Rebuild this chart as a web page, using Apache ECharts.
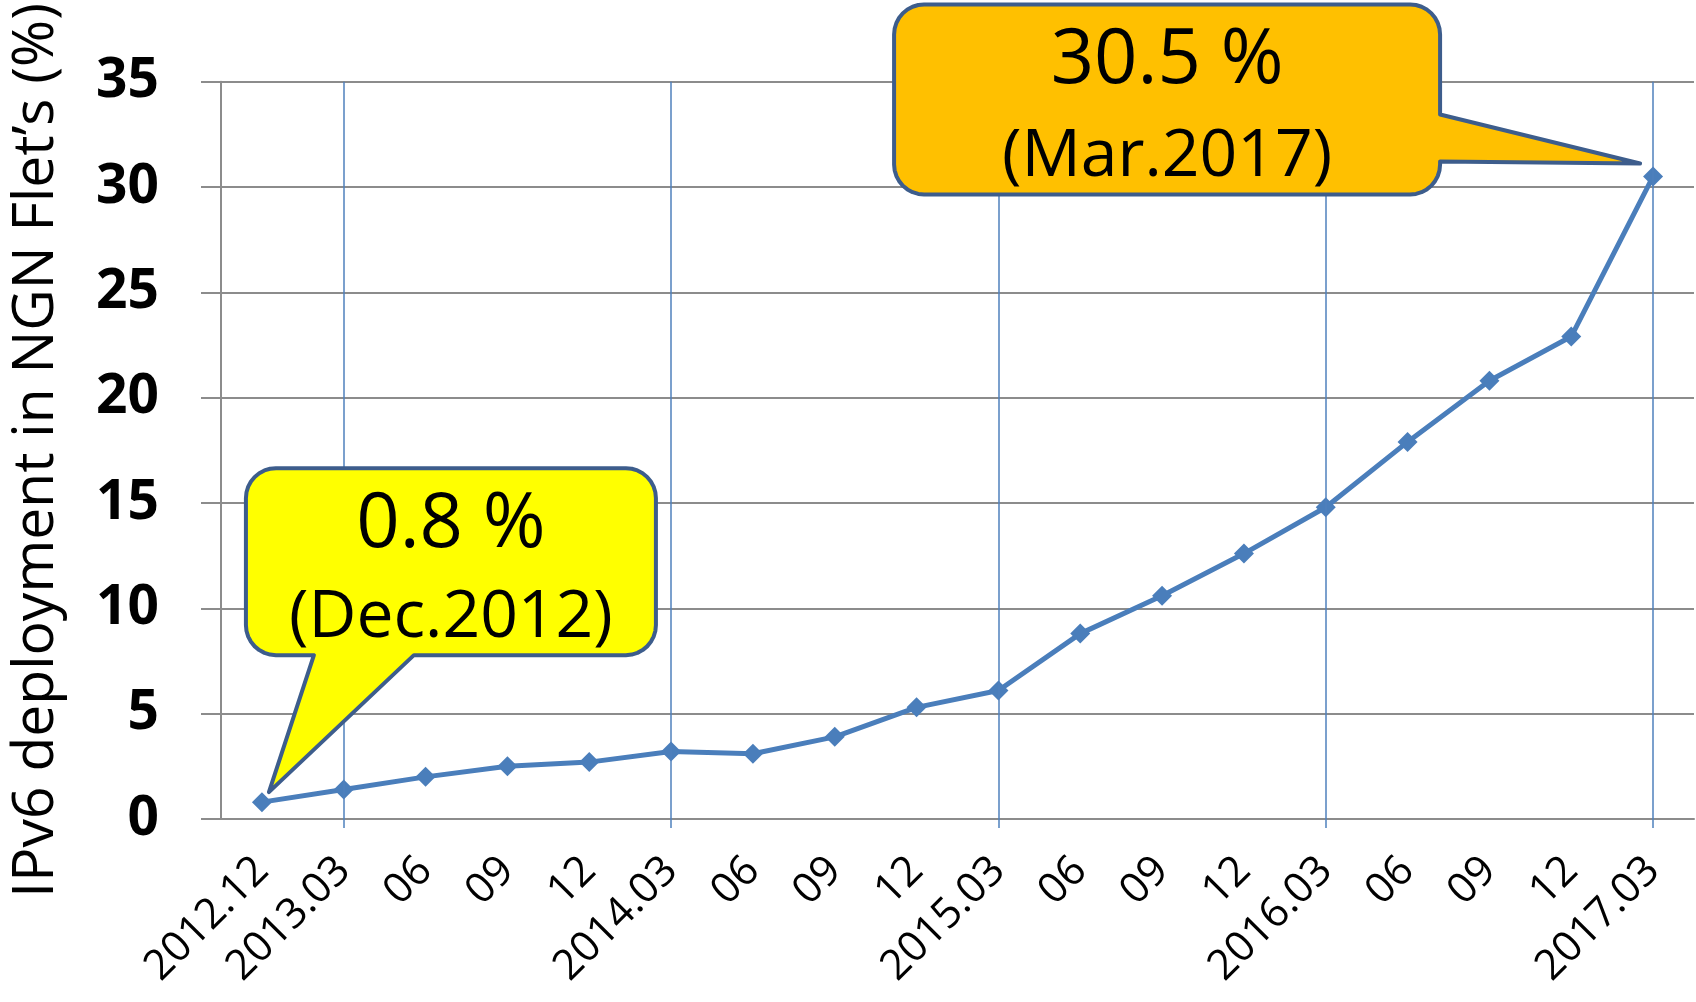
<!DOCTYPE html>
<html>
<head>
<meta charset="utf-8">
<script src="https://cdn.jsdelivr.net/npm/echarts@6/dist/echarts.min.js"></script>
<style>
  html, body { margin: 0; padding: 0; background: #fff; }
  #chart { width: 1696px; height: 1002px; }
</style>
</head>
<body>
<div id="chart"></div>
<script>
// quarterly snapshots, Dec 2012 .. Mar 2017
const periods = ['2012.12', '2013.03', '2013.06', '2013.09', '2013.12', '2014.03', '2014.06', '2014.09', '2014.12',
  '2015.03', '2015.06', '2015.09', '2015.12', '2016.03', '2016.06', '2016.09', '2016.12', '2017.03']
const tickLabels = ['2012.12', '2013.03', '06', '09', '12', '2014.03', '06', '09', '12',
  '2015.03', '06', '09', '12', '2016.03', '06', '09', '12', '2017.03']
// IPv6 share (%)
const share = [0.8, 1.4, 2.0, 2.5, 2.7, 3.2, 3.1, 3.9, 5.3, 6.1, 8.8, 10.6, 12.6, 14.8, 17.9, 20.8, 22.9, 30.5]
// vertical guide lines at each March
const yearMarks = ['2013.03', '2014.03', '2015.03', '2016.03', '2017.03']
const yTitle = 'IPv6 deployment in NGN Flet\u2019s (%)'

// callout texts, anchored to a data index
const firstNote = ['0.8 %', '(Dec.2012)']
const lastNote = ['30.5 %', '(Mar.2017)']

const gray = '#8c8c8c'
const blue = '#4a7ebb'
const font = 'Open Sans'

const chart = echarts.init(document.getElementById('chart'))

chart.setOption({
  animation: false,
  grid: { left: 220, right: 2, top: 80, bottom: 183 },
  xAxis: {
    type: 'category',
    data: periods,
    boundaryGap: true,
    axisLine: { lineStyle: { color: gray, width: 2 } },
    // short blue stubs under the year lines
    axisTick: {
      show: true,
      alignWithLabel: true,
      interval: (i) => yearMarks.includes(periods[i]),
      length: 9,
      lineStyle: { color: '#4f81bd', width: 1.5 },
    },
    axisLabel: {
      interval: 0,
      rotate: 45,
      margin: 45,
      color: '#000',
      fontFamily: font,
      fontSize: 42,
      formatter: (v, i) => tickLabels[i],
    },
  },
  yAxis: {
    type: 'value',
    min: 0,
    max: 35,
    interval: 5,
    name: yTitle,
    nameLocation: 'middle',
    nameGap: 156,
    nameTextStyle: { color: '#000', fontFamily: font, fontSize: 57 },
    axisLine: { show: true, lineStyle: { color: gray, width: 2 } },
    axisTick: { show: true, length: 20, lineStyle: { color: gray, width: 2 } },
    axisLabel: { margin: 62, color: '#000', fontFamily: font, fontWeight: 'bold', fontSize: 55 },
    splitLine: { lineStyle: { color: gray, width: 2 } },
  },
  series: [
    {
      type: 'line',
      data: share,
      symbol: 'diamond',
      symbolSize: 20,
      lineStyle: { color: blue, width: 5 },
      itemStyle: { color: blue },
      z: 3,
      markLine: {
        silent: true,
        symbol: ['none', 'none'],
        label: { show: false },
        lineStyle: { color: '#4f81bd', width: 1.5, type: 'solid' },
        data: yearMarks.map((p) => ({ xAxis: p })),
      },
    },
  ],
})

// quarter circle corner as points (cx, cy centre; from angle a0)
function corner(cx, cy, r, a0) {
  const pts = []
  for (let k = 0; k <= 8; k++) {
    const a = a0 + (k / 8) * (Math.PI / 2)
    pts.push([cx + r * Math.cos(a), cy + r * Math.sin(a)])
  }
  return pts
}

// rounded box outline with a pointer on 'bottom' or 'right' side
function calloutPoints(b, r, tip, side, b1, b2) {
  const pts = []
  pts.push(...corner(b.l + r, b.t + r, r, Math.PI))          // top-left
  pts.push(...corner(b.r - r, b.t + r, r, -Math.PI / 2))     // top-right
  if (side === 'right') pts.push([b.r, b1], tip, [b.r, b2])
  pts.push(...corner(b.r - r, b.b - r, r, 0))                // bottom-right
  if (side === 'bottom') pts.push([b2, b.b], tip, [b1, b.b])
  pts.push(...corner(b.l + r, b.b - r, r, Math.PI / 2))      // bottom-left
  return pts
}

function callout(idx, lines, fill, side) {
  const [px, py] = chart.convertToPixel({ seriesIndex: 0 }, [idx, share[idx]])
  let b, tip, b1, b2
  if (side === 'bottom') {
    b = { l: px - 16, r: px + 394, t: py - 334, b: py - 147 }
    tip = [px + 7, py - 10]
    b1 = px + 52
    b2 = px + 152
  } else {
    b = { l: px - 759, r: px - 213, t: py - 172, b: py + 18 }
    tip = [px - 13, py - 13]
    b1 = py - 62
    b2 = py - 15
  }
  const cx = (b.l + b.r) / 2
  return [
    {
      type: 'polygon',
      z: 100,
      shape: { points: calloutPoints(b, 30, tip, side, b1, b2) },
      style: { fill: fill, stroke: '#3d5d8c', lineWidth: 4, lineJoin: 'round' },
    },
    {
      type: 'text',
      z: 101,
      x: cx,
      y: b.t + 57,
      style: { text: lines[0], fill: '#000', font: `76px "${font}"`, textAlign: 'center', textVerticalAlign: 'middle' },
    },
    {
      type: 'text',
      z: 101,
      x: cx,
      y: b.b - 37,
      style: { text: lines[1], fill: '#000', font: `66px "${font}"`, textAlign: 'center', textVerticalAlign: 'middle' },
    },
  ]
}

chart.setOption({
  graphic: [
    ...callout(0, firstNote, '#ffff00', 'bottom'),
    ...callout(share.length - 1, lastNote, '#ffc000', 'right'),
  ],
})
</script>
</body>
</html>
